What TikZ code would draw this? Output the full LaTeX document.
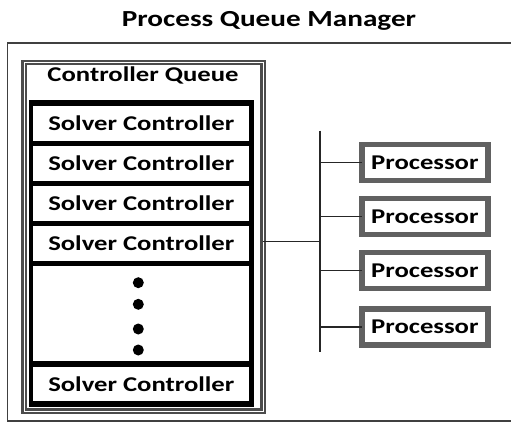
\documentclass[tikz,border=0pt]{standalone}
\usepackage{fontspec}
\usepackage{graphicx}
\setmainfont{Carlito}
\newcommand{\stretchtxt}[1]{\scalebox{1.27}[1]{#1}}
\begin{document}
\begin{tikzpicture}[x=1pt,y=-1pt,
  every node/.style={inner sep=0pt, outer sep=0pt, font=\bfseries},
  bodyfont/.style={font=\fontsize{21}{21}\bfseries\selectfont},
  cellbox/.style={bodyfont, fill=white, minimum width=216pt, minimum height=34.7pt},
  procbox/.style={bodyfont, draw=black!62, line width=5.5pt, fill=white, minimum width=126.2pt, minimum height=36pt},
  wire/.style={line width=1.5pt, draw=black!85},
  dotmark/.style={circle, fill=black, minimum size=11pt}]
\clip (0,0) rectangle (511,422);
% title
\node[font=\fontsize{23}{23}\bfseries\selectfont] (title) at (269,21) {\stretchtxt{Process Queue Manager}};
% outer box
\node[draw=black!75, line width=1.8pt, anchor=north west, minimum width=520pt, minimum height=378pt] (pqm) at (7.5,42.7) {};
% controller queue box
\node[draw=black!70, double=white, line width=2.4pt, double distance=0.9pt, minimum width=238.7pt, minimum height=348.8pt] (queue) at (143.6,236.8) {};
\node[bodyfont] (qlabel) at (143,75) {\stretchtxt{Controller Queue}};
% black stack
\node[fill=black, anchor=north west, minimum width=224.7pt, minimum height=306.7pt] (stack) at (29.3,100) {};
\node[cellbox] (c1) at (141.3,123.35) {\stretchtxt{Solver Controller}};
\node[cellbox] (c2) at (141.3,163.35) {\stretchtxt{Solver Controller}};
\node[cellbox] (c3) at (141.3,203.7) {\stretchtxt{Solver Controller}};
\node[cellbox] (c4) at (141.3,243.7) {\stretchtxt{Solver Controller}};
\node[cellbox, minimum height=94.7pt] (cdots) at (141.3,313.35) {};
\node[cellbox] (c5) at (141.3,383.85) {\stretchtxt{Solver Controller}};
\node[dotmark] (d1) at (138.3,282.7) {};
\node[dotmark] (d2) at (138.3,304.3) {};
\node[dotmark] (d3) at (138.3,329) {};
\node[dotmark] (d4) at (138.3,350) {};
% processors
\node[procbox] (p1) at (424.85,162.3) {\stretchtxt{Processor}};
\node[procbox] (p2) at (424.85,216.5) {\stretchtxt{Processor}};
\node[procbox] (p3) at (424.85,270.5) {\stretchtxt{Processor}};
\node[procbox] (p4) at (424.85,326.8) {\stretchtxt{Processor}};
% bus
\coordinate (bustop) at (320,130.7);
\coordinate (busbot) at (320,352.3);
\coordinate (busmid) at (320,241.7);
\draw[wire] (bustop) -- (busbot);
\draw[wire] (queue.east |- busmid) -- (busmid);
\foreach \p in {p1,p2,p3,p4} \draw[wire] (bustop |- \p.west) -- (\p.west);
\end{tikzpicture}
\end{document}
